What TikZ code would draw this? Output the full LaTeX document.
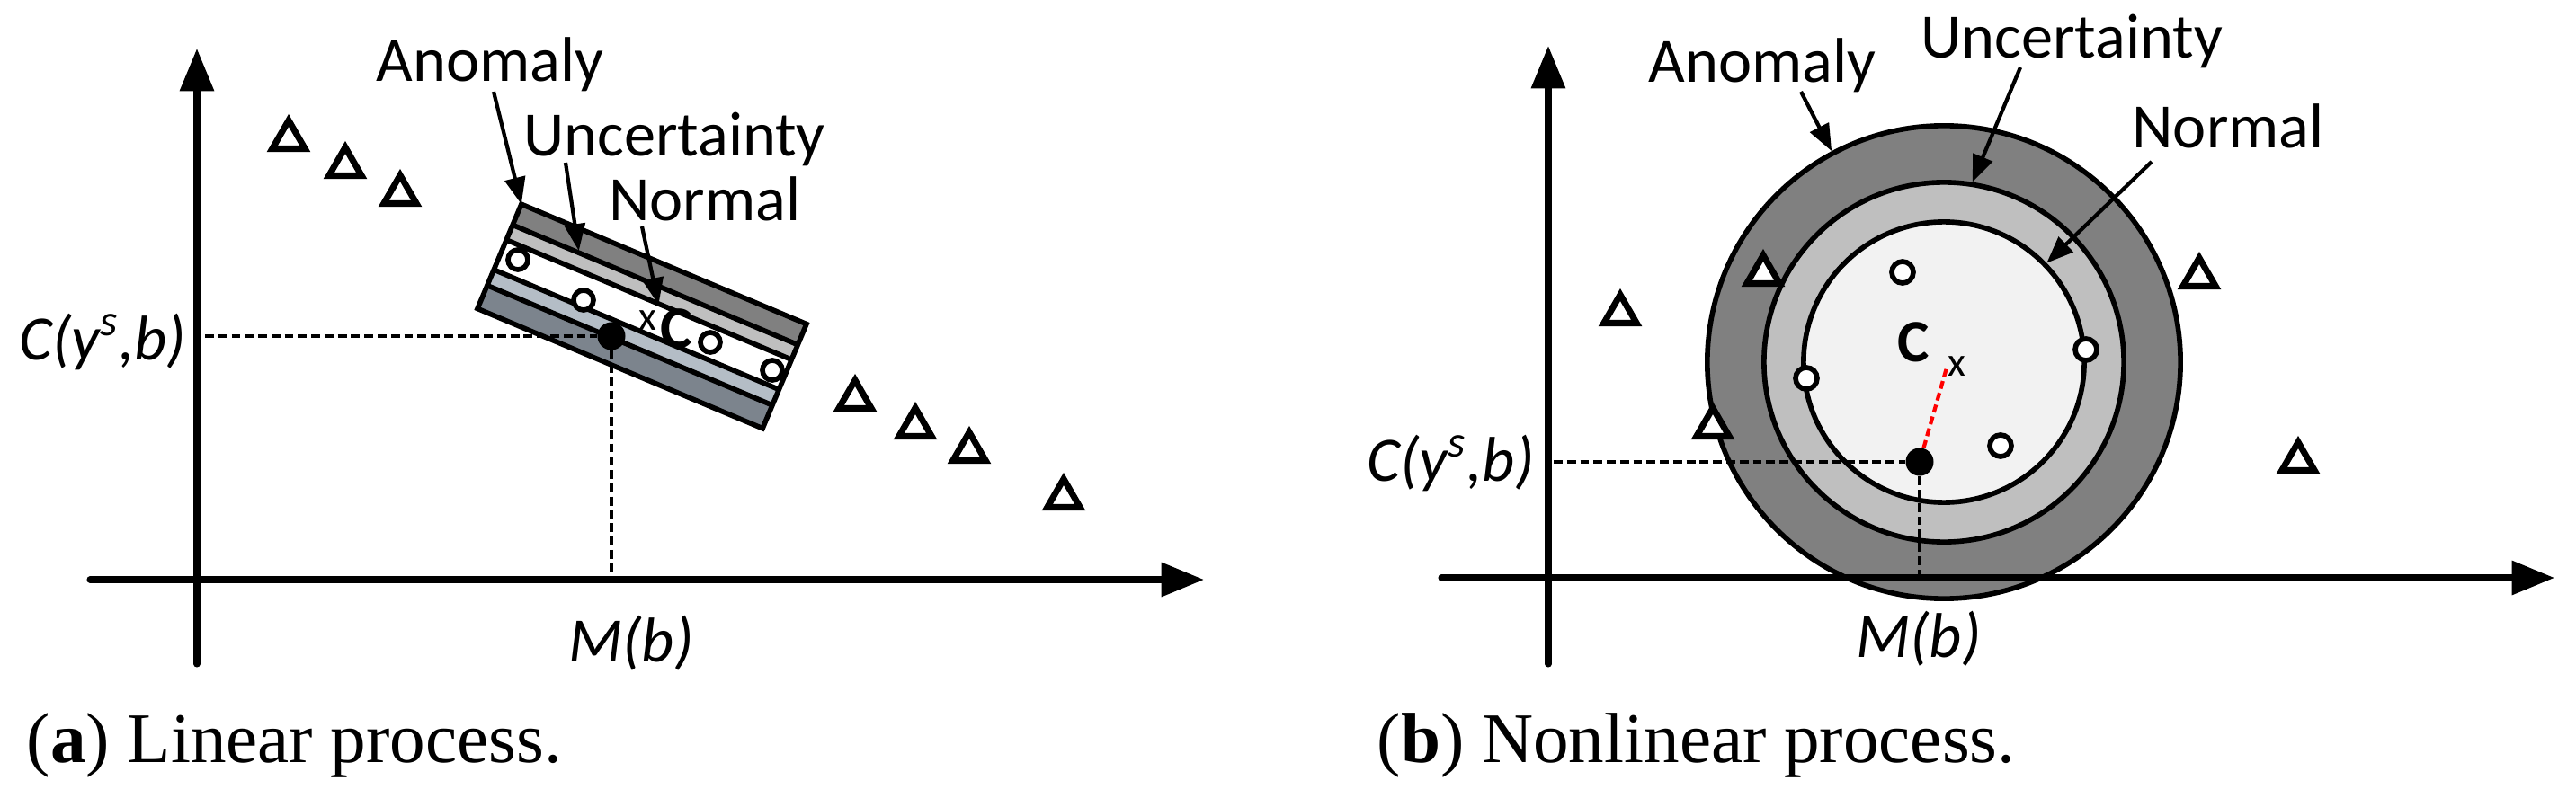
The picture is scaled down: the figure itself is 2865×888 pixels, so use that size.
\documentclass[tikz,border=0pt]{standalone}
\usepackage{fontspec}
\newfontfamily\lblfont{Carlito}
\newfontfamily\captfont{Liberation Serif}
\usetikzlibrary{arrows.meta,positioning,shapes.geometric}

\definecolor{anomgray}{HTML}{808080}
\definecolor{uncgray}{HTML}{BFBFBF}
\definecolor{normgray}{HTML}{F2F2F2}
\definecolor{anomblue}{HTML}{7C848D}
\definecolor{uncblue}{HTML}{B4BDC6}

\begin{document}
\begin{tikzpicture}[x=0.01cm, y=-0.01cm,
    axis/.style={line width=2pt, line cap=round, -{Triangle[length=13.5pt, width=10.5pt]}},
    guide/.style={line width=0.9pt, dash pattern=on 2.8pt off 1.4pt},
    reddash/.style={red, line width=1.2pt, dash pattern=on 2.5pt off 1.4pt},
    pointer/.style={line width=1.2pt, -{Triangle[length=8.5pt, width=6.5pt]}},
    outl/.style={line width=1.6pt},
    tri/.style={draw, fill=white, line width=2pt, regular polygon, regular polygon sides=3, minimum size=0.42cm, inner sep=0pt},
    smp/.style={draw, fill=white, circle, line width=1.6pt, minimum size=0.22cm, inner sep=0pt},
    cdot/.style={fill=black, circle, minimum size=0.31cm, inner sep=0pt},
    ring/.style={draw, circle, outl, inner sep=0pt},
    lbl/.style={font=\lblfont\fontsize{20}{24}\selectfont, inner sep=0pt},
    axlbl/.style={font=\lblfont\itshape\fontsize{20}{24}\selectfont, inner sep=0pt},
    ctr/.style={font=\lblfont\bfseries\fontsize{19}{22}\selectfont, inner sep=0pt},
    xmark/.style={font=\lblfont\fontsize{13}{15}\selectfont, inner sep=0pt},
    capt/.style={font=\captfont\fontsize{22.5}{26}\selectfont, inner sep=0pt}]

  \useasboundingbox (0,0) rectangle (2865,888);

  % ---------------- (a) Linear process ----------------
  % tilted band: anomaly / uncertainty / normal / uncertainty / anomaly
  \begin{scope}[rotate around={-22.8:(714,352)}]
    \fill[anomgray] (542,289) rectangle (886,314);
    \fill[uncgray] (542,314) rectangle (886,332);
    \fill[white] (542,332) rectangle (886,368);
    \fill[uncblue] (542,368) rectangle (886,387);
    \fill[anomblue] (542,387) rectangle (886,415);
    \foreach \yy in {314,332,368,387}
      \draw[outl] (542,\yy) -- (886,\yy);
    \draw[outl] (542,289) rectangle (886,415);
    \coordinate (anomTipA) at (542,289);
    \coordinate (uncTipA) at (621,312);
    \coordinate (normTipA) at (726,333);
  \end{scope}

  % axes
  \coordinate (yBotA) at (219,739); \coordinate (yTopA) at (219,54);
  \coordinate (xLeftA) at (100,645); \coordinate (xRightA) at (1339,645);
  \draw[axis] (yBotA) -- (yTopA);
  \draw[axis] (xLeftA) -- (xRightA);

  % samples
  \foreach \p [count=\i] in {(321,155),(384,185),(445,216),(951,444),(1018,475),(1078,502),(1183,554)}
    \node[tri] (triA\i) at \p {};
  \foreach \p [count=\i] in {(576,289),(649,334),(790,381),(859,412)}
    \node[smp] (smpA\i) at \p {};

  % centre and projection
  \node[cdot] (dotA) at (680,374) {};
  \coordinate (yHitA) at (228,374); \coordinate (xHitA) at (680,645);
  \draw[guide] (yHitA) -- (dotA);
  \draw[guide] (dotA) -- (xHitA);
  \node[xmark] (xA) at (720,357) {x};
  \node[ctr] (cA) at (752,366) {C};

  % labels
  \node[lbl, anchor=base] (anomA) at (545,91) {Anomaly};
  \node[lbl, anchor=base] (uncA) at (750,174) {Uncertainty};
  \node[lbl, anchor=base] (normA) at (784,246) {Normal};
  \draw[pointer] ([shift={(4,11)}]anomA.base) -- (anomTipA);
  \draw[pointer] ([shift={(-121,7)}]uncA.base) -- (uncTipA);
  \draw[pointer] ([shift={(-70,6)}]normA.base) -- (normTipA);

  \node[axlbl, anchor=east] (cysA) at (208,380) {C(y\textsuperscript{s},b)};
  \node[axlbl] (mbA) at (702,716) {M(b)};
  \node[capt, anchor=base west] (captA) at (29,848) {(\textbf{a}) Linear process.};

  % ---------------- (b) Nonlinear process ----------------
  % nested regions
  \node[ring, fill=anomgray, minimum size=5.26cm] (anomB) at (2162,403) {};
  \node[ring, fill=uncgray, minimum size=4.0cm] (uncRingB) at (2162,403) {};
  \node[ring, fill=normgray, minimum size=3.12cm] (normB) at (2162,403) {};

  % axes
  \coordinate (yBotB) at (1722,739); \coordinate (yTopB) at (1722,51);
  \coordinate (xLeftB) at (1603,643); \coordinate (xRightB) at (2841,643);
  \draw[axis] (yBotB) -- (yTopB);
  \draw[axis] (xLeftB) -- (xRightB);

  % samples
  \foreach \p [count=\i] in {(1802,349),(1961,305),(2446,308),(1905,475),(2556,513)}
    \node[tri] (triB\i) at \p {};
  \foreach \p [count=\i] in {(2116,303),(2320,389),(2009,421),(2225,496)}
    \node[smp, minimum size=0.24cm] (smpB\i) at \p {};

  % centre, its shift and projection
  \node[xmark] (xB) at (2176,408) {x};
  \node[ctr] (cB) at (2128,381) {C};
  \coordinate (yHitB) at (1728,514); \coordinate (xHitB) at (2135,643);
  \node[cdot] (dotB) at (2135,514) {};
  \draw[reddash] (dotB) -- (xB.west);
  \draw[guide] (yHitB) -- (dotB);
  \draw[guide] (dotB) -- (xHitB);

  % labels
  \node[lbl, anchor=base] (anomLblB) at (1960,92) {Anomaly};
  \node[lbl, anchor=base] (uncLblB) at (2304,65) {Uncertainty};
  \node[lbl, anchor=base] (normLblB) at (2478,165) {Normal};
  \draw[pointer] ([shift={(43,10)}]anomLblB.base) -- (anomB.118);
  \draw[pointer] ([shift={(-57,10)}]uncLblB.base) -- (uncRingB.81);
  \draw[pointer] ([shift={(-85,15)}]normLblB.base) -- (normB.44);

  \node[axlbl, anchor=east] (cysB) at (1707,515) {C(y\textsuperscript{s},b)};
  \node[axlbl] (mbB) at (2134,711) {M(b)};
  \node[capt, anchor=base west] (captB) at (1531,848) {(\textbf{b}) Nonlinear process.};
\end{tikzpicture}
\end{document}
